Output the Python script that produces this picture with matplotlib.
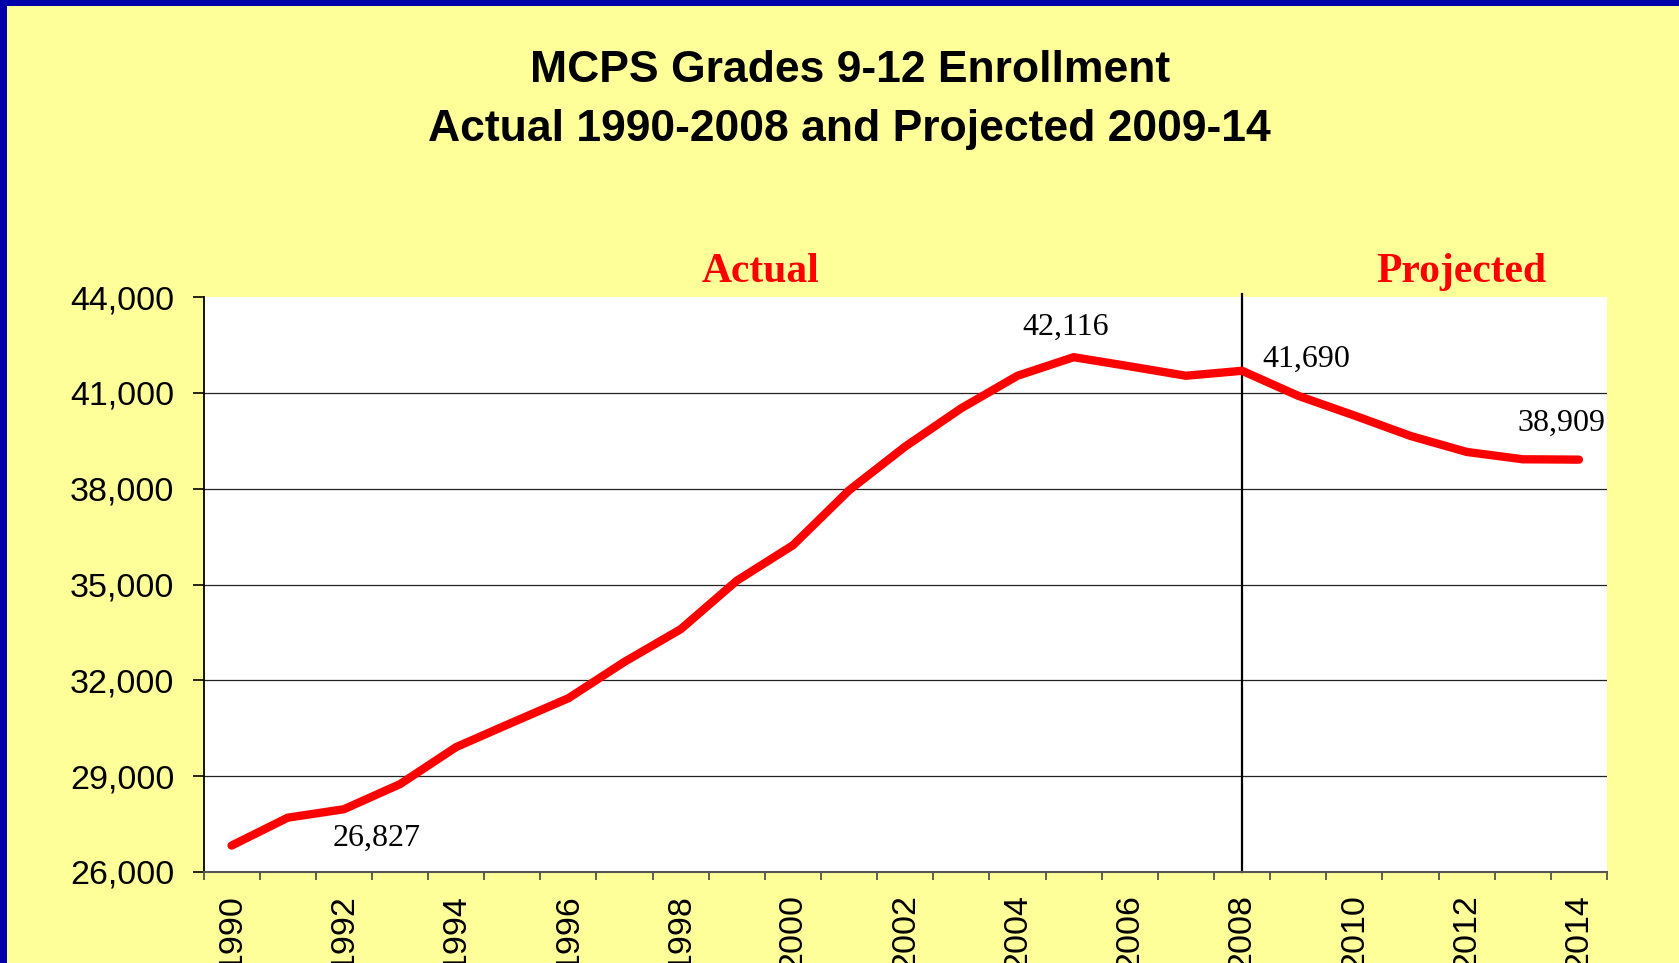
import matplotlib
matplotlib.use("Agg")
import matplotlib.pyplot as plt
from matplotlib.patches import Rectangle
import numpy as np

# MCPS grades 9-12 enrollment, actual 1990-2008, projected 2009-2014
years = list(range(1990, 2015))
enrollment = [26827, 27700, 27965, 28750, 29910, 30680, 31440, 32580, 33600,
              35120, 36230, 37950, 39320, 40520, 41535, 42116, 41830, 41535,
              41690, 40906, 40290, 39650, 39150, 38920, 38909]
y_ticks = [26000, 29000, 32000, 35000, 38000, 41000, 44000]
x_labels = list(range(1990, 2015, 2))
split_year = 2008

# (year, text, offset in pixels from the point)
callouts = [
    (1990, "26,827", (145, 7)),
    (2005, "42,116", (-8, 30)),
    (2008, "41,690", (64, 11)),
    (2014, "38,909", (-17, 36)),
]

YELLOW = "#FFFF99"
BLUE = "#0000AA"
RED = "#FF0000"
SANS = ["Liberation Sans", "DejaVu Sans"]
SERIF = ["Liberation Serif", "DejaVu Serif"]

W, H = 1679, 963
fig = plt.figure(figsize=(W / 100, H / 100), dpi=100)
fig.patch.set_facecolor(YELLOW)

# blue frame on top and left
fig.patches.append(Rectangle((0, 1 - 6 / H), 1, 6 / H, transform=fig.transFigure,
                             facecolor=BLUE, edgecolor="none", zorder=0))
fig.patches.append(Rectangle((0, 0), 7 / W, 1, transform=fig.transFigure,
                             facecolor=BLUE, edgecolor="none", zorder=0))

ax = fig.add_axes([203.5 / W, (H - 872) / H, 1403.5 / W, 575 / H])
ax.set_facecolor("white")

ax.hlines(y_ticks[1:-1], 1989.5, 2014.5, color="#222222", lw=0.9, zorder=1)
ax.axvline(split_year, ymin=0, ymax=1.005, color="black", lw=1.6,
           clip_on=False, zorder=2)
ax.plot(years, enrollment, color=RED, lw=6, solid_capstyle="round",
        solid_joinstyle="miter", zorder=3)

for yr, txt, off in callouts:
    ax.annotate(txt, xy=(yr, enrollment[years.index(yr)]), xytext=off,
                textcoords="offset pixels", ha="center", va="center",
                fontsize=23, family=SERIF, color="black")

ax.set_xlim(1989.5, 2014.5)
ax.set_ylim(y_ticks[0], y_ticks[-1])

ax.set_yticks(y_ticks)
ax.set_yticklabels([f"{v:,}" for v in y_ticks], family=SANS, fontsize=24.5)
ax.tick_params(axis="y", direction="out", length=8, width=1.2, pad=13,
               colors="black")

ax.set_xticks(x_labels)
ax.set_xticklabels([str(y) for y in x_labels], rotation=90, family=SANS,
                   fontsize=24.5, va="top")
ax.set_xticks(np.arange(1989.5, 2015, 1.0), minor=True)
ax.tick_params(axis="x", which="major", length=0, pad=16)
ax.tick_params(axis="x", which="minor", direction="out", length=6, width=1.2,
               color="#444444")

for side in ("top", "right"):
    ax.spines[side].set_visible(False)
ax.spines["left"].set_color("black")
ax.spines["left"].set_linewidth(1.3)
ax.spines["bottom"].set_color("#555555")
ax.spines["bottom"].set_linewidth(1.5)

fig.text(0.506, 1 - 70 / H, "MCPS Grades 9-12 Enrollment", ha="center",
         va="center", fontsize=32, fontweight="bold", family=SANS)
fig.text(0.506, 1 - 129 / H, "Actual 1990-2008 and Projected 2009-14",
         ha="center", va="center", fontsize=32, fontweight="bold", family=SANS)
fig.text(761 / W, 1 - 272 / H, "Actual", ha="center", va="center",
         fontsize=30, fontweight="bold", family=SERIF, color=RED)
fig.text(1461 / W, 1 - 272 / H, "Projected", ha="center", va="center",
         fontsize=30, fontweight="bold", family=SERIF, color=RED)

fig.savefig("out.png", dpi=100, facecolor=fig.get_facecolor())
